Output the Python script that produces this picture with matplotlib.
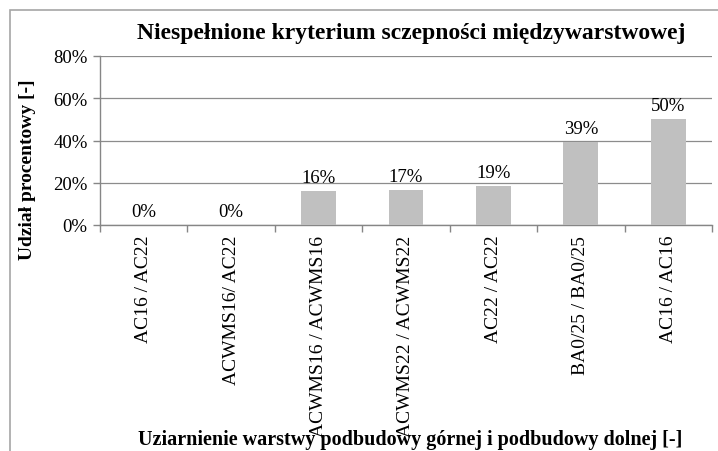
import matplotlib
matplotlib.use('Agg')
from matplotlib import pyplot as plt
from matplotlib.patches import Rectangle
from matplotlib.ticker import PercentFormatter, FixedLocator, NullFormatter

categories = ['AC16 / AC22', 'ACWMS16/ AC22', 'ACWMS16 / ACWMS16', 'ACWMS22 / ACWMS22',
              'AC22 / AC22', 'BA0/25 / BA0/25', 'AC16 / AC16']
values = [0.0, 0.0, 15.9, 16.7, 18.6, 39.4, 50.1]

plt.rcParams['font.family'] = ['Liberation Serif', 'DejaVu Serif']

fig = plt.figure(figsize=(7.18, 4.52), dpi=100)
ax = fig.add_axes([100/718, 1-226/452, 612/718, 169/452])

x = list(range(len(categories)))
ax.bar(x, values, width=0.4, color='#C0C0C0', zorder=3)
for xi, v in zip(x, values):
    ax.text(xi, v + 2.4, '%d%%' % round(v), ha='center', va='bottom', fontsize=13.5)

ax.set_xlim(-0.5, len(categories) - 0.5)
ax.set_ylim(0, 80)
ax.set_yticks([0, 20, 40, 60, 80])
ax.yaxis.set_major_formatter(PercentFormatter(decimals=0))
ax.grid(axis='y', color='#8C8C8C', linewidth=0.9, zorder=0)
ax.set_xticks(x)
ax.set_xticklabels(categories, rotation=90, fontsize=14, va='top')
ax.xaxis.set_minor_locator(FixedLocator([i - 0.5 for i in range(len(categories) + 1)]))
ax.xaxis.set_minor_formatter(NullFormatter())
ax.tick_params(axis='x', which='major', length=0, pad=7)
ax.tick_params(axis='x', which='minor', length=5, color='#868686', width=1)
ax.tick_params(axis='y', length=5, color='#868686', width=1, labelsize=13.5, pad=4)
for s in ['top', 'right']:
    ax.spines[s].set_visible(False)
for s in ['left', 'bottom']:
    ax.spines[s].set_color('#868686')
    ax.spines[s].set_linewidth(1)

fig.text(411/718, 1-33/452, 'Niespełnione kryterium sczepności międzywarstwowej',
         ha='center', va='center', fontsize=17, fontweight='bold')
fig.text(28/718, 1-170/452, 'Udział procentowy [-]', rotation=90,
         ha='center', va='center', fontsize=14, fontweight='bold')
fig.text(410/718, 1-440/452, 'Uziarnienie warstwy podbudowy górnej i podbudowy dolnej [-]',
         ha='center', va='center', fontsize=14.5, fontweight='bold')

fig.patches.append(Rectangle((10/718, -0.1), 1.2, 1.1 - 11/452, transform=fig.transFigure,
                             fill=False, edgecolor='#A6A6A6', linewidth=1.2))

plt.savefig('out.png', dpi=100)
